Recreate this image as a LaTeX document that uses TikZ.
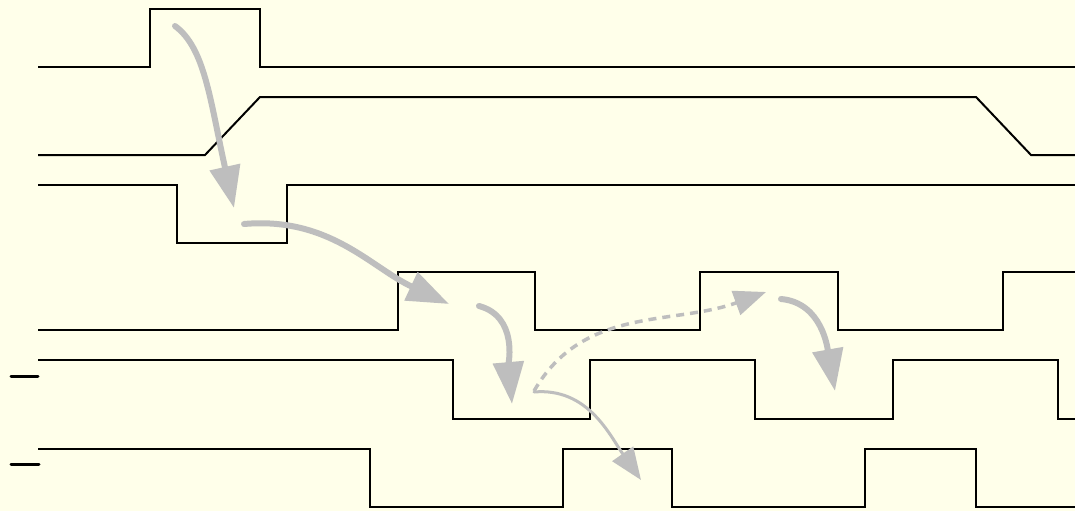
\documentclass[tikz,border=0pt]{standalone}
\usetikzlibrary{arrows.meta}
\definecolor{bg}{RGB}{255,255,234}
\definecolor{arr}{RGB}{190,190,190}
\begin{document}
\begin{tikzpicture}[x=1pt,y=-1pt,
  sig/.style={draw=black,line width=2pt,line join=miter},
  bigarrow/.style={draw=arr,line width=6pt,line cap=round,-{Triangle[length=42pt,width=30pt]}},
  thinarrow/.style={draw=arr,line width=3pt,line cap=round,-{Triangle[length=32pt,width=25pt]}},
  dasharrow/.style={thinarrow,line width=3.5pt,line cap=butt,dash pattern=on 8pt off 6pt}]
\fill[bg] (0,0) rectangle (1075,511);
\useasboundingbox (0,0) rectangle (1075,511);
% signals
\draw[sig] (38,67) -- (150,67) -- (150,9) -- (260,9) -- (260,67) -- (1075,67);
\draw[sig] (38,155) -- (205,155) -- (260,97) -- (976,97) -- (1031,155) -- (1075,155);
\draw[sig] (38,185) -- (177,185) -- (177,243) -- (287,243) -- (287,185) -- (1075,185);
\draw[sig] (38,330) -- (398,330) -- (398,272) -- (535,272) -- (535,330) -- (700,330) -- (700,272) -- (838,272) -- (838,330) -- (1003,330) -- (1003,272) -- (1075,272);
\draw[sig] (38,360) -- (453,360) -- (453,419) -- (590,419) -- (590,360) -- (755,360) -- (755,419) -- (893,419) -- (893,360) -- (1058,360) -- (1058,419) -- (1075,419);
\draw[sig] (38,449) -- (370,449) -- (370,507) -- (563,507) -- (563,449) -- (672,449) -- (672,507) -- (865,507) -- (865,449) -- (976,449) -- (976,507) -- (1075,507);
% bars
\draw[line width=3pt,line cap=round] (11,376) -- (38,376);
\draw[line width=3pt,line cap=round] (11,464) -- (39,464);
% arrow endpoints
\coordinate (a1s) at (175,26); \coordinate (a1e) at (234,208);
\coordinate (a2s) at (244,224); \coordinate (a2e) at (449,304);
\coordinate (a3s) at (479,306); \coordinate (a3e) at (512,404);
\coordinate (a4s) at (534,392); \coordinate (a4e) at (641,480);
\coordinate (a5s) at (534,391); \coordinate (a5e) at (766,292);
\coordinate (a6s) at (781,299); \coordinate (a6e) at (835,391);
% arrows
\draw[bigarrow] (a1s) .. controls (205,48) and (210,100) .. (a1e);
\draw[bigarrow] (a2s) to[out=5,in=155] (a2e);
\draw[bigarrow] (a3s) to[out=-15,in=95] (a3e);
\draw[thinarrow] (a4s) to[out=5,in=125] (a4e);
\draw[dasharrow] (a5s) to[out=60,in=200] (a5e);
\draw[bigarrow] (a6s) to[out=-5,in=100] (a6e);
\end{tikzpicture}
\end{document}
